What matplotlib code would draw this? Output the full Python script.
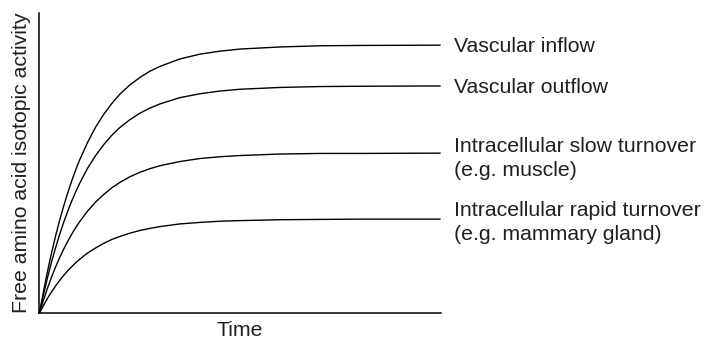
import matplotlib.pyplot as plt

plt.rcParams['font.family'] = ['Liberation Sans', 'DejaVu Sans']

# time (arbitrary units) and free amino acid isotopic activity for each pool
time = [0, 0.1, 0.2, 0.3, 0.4, 0.5, 0.6, 0.7, 0.8, 0.9, 1.0, 1.2, 1.4, 1.6,
        1.8, 2.0, 2.25, 2.5, 2.75, 3.0, 3.5, 4.0, 4.5, 5.0, 6.0, 7.0, 8.0, 10.0]
vascular_inflow = [0, 7.2, 13.9, 20.0, 25.6, 30.8, 35.5, 39.9, 43.9, 47.6, 51.0, 56.9, 62.0, 66.2,
                   69.8, 72.9, 76.0, 78.5, 80.6, 82.2, 84.7, 86.3, 87.3, 88.0, 88.7, 89.1, 89.2, 89.3]
vascular_outflow = [0, 6.1, 11.8, 17.0, 21.7, 26.1, 30.1, 33.8, 37.2, 40.3, 43.2, 48.3, 52.5, 56.1,
                    59.2, 61.8, 64.4, 66.6, 68.3, 69.7, 71.8, 73.1, 74.0, 74.6, 75.2, 75.5, 75.6, 75.7]
slow_turnover = [0, 4.3, 8.3, 11.9, 15.3, 18.4, 21.2, 23.8, 26.2, 28.4, 30.4, 34.0, 37.0, 39.5,
                 41.7, 43.5, 45.4, 46.9, 48.1, 49.1, 50.5, 51.5, 52.1, 52.5, 53.0, 53.2, 53.2, 53.3]
rapid_turnover = [0, 2.5, 4.9, 7.0, 9.0, 10.8, 12.5, 14.0, 15.4, 16.7, 17.9, 20.0, 21.7, 23.2,
                  24.5, 25.5, 26.6, 27.5, 28.2, 28.8, 29.7, 30.2, 30.6, 30.8, 31.1, 31.2, 31.3, 31.3]

series = [vascular_inflow, vascular_outflow, slow_turnover, rapid_turnover]
labels = ['Vascular inflow',
          'Vascular outflow',
          'Intracellular slow turnover\n(e.g. muscle)',
          'Intracellular rapid turnover\n(e.g. mammary gland)']
# baseline of the first label line, relative to the plateau
label_offsets = [-2.2, -2.3, 0.5, 1.0]

fig = plt.figure(figsize=(7.05, 3.42), dpi=100)
ax = fig.add_axes([0.056, 0.0848, 0.569, 0.877])

text_color = '#231f20'
fs = 15.3

for vals, lab, off in zip(series, labels, label_offsets):
    ax.plot(time, vals, color='black', lw=1.0, solid_capstyle='butt')
    for i, line in enumerate(lab.split('\n')):
        ax.annotate(line, xy=(time[-1], vals[-1] + off), xycoords='data',
                    xytext=(9.6, -i * 17.5), textcoords='offset points',
                    va='baseline', ha='left', fontsize=fs, color=text_color,
                    annotation_clip=False)

ax.set_xlim(0, 10)
ax.set_ylim(0, 100)
for side in ['top', 'right']:
    ax.spines[side].set_visible(False)
for side in ['left', 'bottom']:
    ax.spines[side].set_linewidth(1.1)
    ax.spines[side].set_color('black')
ax.set_xticks([])
ax.set_yticks([])

ax.set_xlabel('Time', fontsize=fs, color=text_color, labelpad=6)
ax.set_ylabel('Free amino acid isotopic activity', fontsize=fs, color=text_color, labelpad=6)

fig.savefig('out.png', dpi=100)
